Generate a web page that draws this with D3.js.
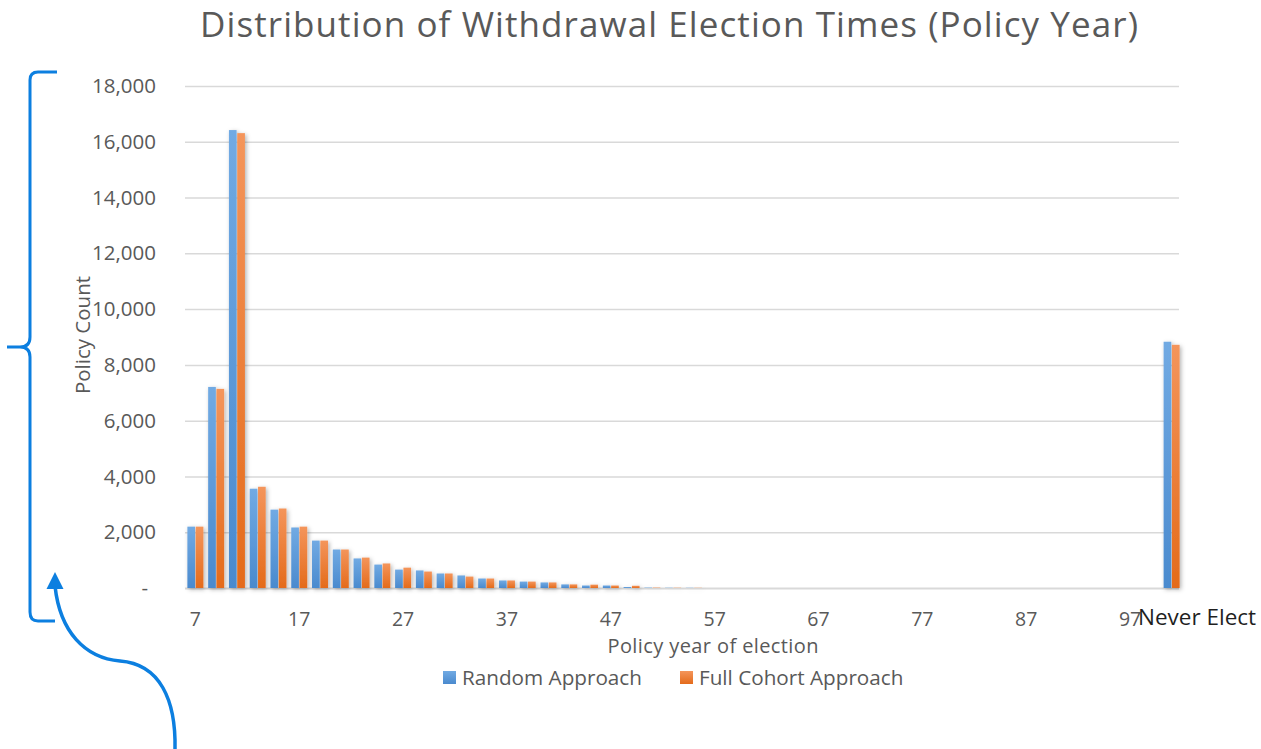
<!DOCTYPE html>
<html>
<head>
<meta charset="utf-8">
<script src="https://cdn.jsdelivr.net/npm/d3@7"></script>
<style>
  body { margin: 0; background: #fff; }
  svg { font-family: "Open Sans", "Noto Sans", sans-serif; }
</style>
</head>
<body>
<div id="chart"></div>
<script>
/* clustered bars: withdrawal election times */

// categories (policy year, every 2nd year) + the "never" bucket
const categories = ["7","9","11","13","15","17","19","21","23","25","27","29","31","33","35","37",
                    "39","41","43","45","47","49","51","53","55","57","59","61","63","65","67","69",
                    "71","73","75","77","79","81","83","85","87","89","91","93","95","97","99","Never Elect"];

const randomApproach = [2200, 7210, 16420, 3560, 2810, 2170, 1700, 1380, 1060, 840, 660, 630, 520, 450, 340, 270,
                        230, 200, 130, 90, 90, 35, 15, 10, 8, 0, 0, 0, 0, 0, 0, 0,
                        0, 0, 0, 0, 0, 0, 0, 0, 0, 0, 0, 0, 0, 0, 0, 8830];

const fullCohort = [2200, 7140, 16310, 3630, 2850, 2200, 1700, 1380, 1090, 880, 730, 590, 520, 410, 340, 270,
                    230, 200, 130, 120, 90, 80, 15, 10, 8, 0, 0, 0, 0, 0, 0, 0,
                    0, 0, 0, 0, 0, 0, 0, 0, 0, 0, 0, 0, 0, 0, 0, 8720];

const seriesNames = ["Random Approach", "Full Cohort Approach"];
const xTickLabels = ["7","17","27","37","47","57","67","77","87","97"];
const yTicks = [0, 2000, 4000, 6000, 8000, 10000, 12000, 14000, 16000, 18000];

const width = 1261,
      height = 749,
      margin = ({ top: 86, right: 80, bottom: 161, left: 185 });

const textColor = "#595959";

let svg = d3.select("#chart")
    .append("svg")
    .attr("width", width)
    .attr("height", height)
    .attr("viewBox", [0, 0, width, height]);

/* gradients + shadow, excel style */
const defs = svg.append("defs");
const grads = [
    { id: "gBlue", top: "#71aae3", bottom: "#4a8ace" },
    { id: "gOrange", top: "#f4955b", bottom: "#e46b1b" }
];
for (let g of grads) {
    let lg = defs.append("linearGradient")
        .attr("id", g.id)
        .attr("x1", 0).attr("y1", 0).attr("x2", 0).attr("y2", 1);
    lg.append("stop").attr("offset", "0%").attr("stop-color", g.top);
    lg.append("stop").attr("offset", "100%").attr("stop-color", g.bottom);
}
defs.append("filter")
    .attr("id", "shadow")
    .attr("x", "-20%").attr("y", "-20%").attr("width", "140%").attr("height", "140%")
    .append("feDropShadow")
    .attr("dx", 1.5).attr("dy", 1.5)
    .attr("stdDeviation", 2)
    .attr("flood-color", "#000")
    .attr("flood-opacity", 0.3);

/* SCALES */
let x0 = d3.scaleBand()
    .domain(categories)
    .range([margin.left, width - margin.right + 1])
    .paddingInner(0.23)
    .paddingOuter(0.115);

let x1 = d3.scaleBand()
    .domain(seriesNames)
    .range([0, x0.bandwidth()])
    .paddingInner(0.08);

let y = d3.scaleLinear()
    .domain([0, 18000])
    .range([588, margin.top]);

const color = d3.scaleOrdinal()
    .domain(seriesNames)
    .range(["url(#gBlue)", "url(#gOrange)"]);

/* AXES */
const yAxis = g => g
    .attr("transform", `translate(${margin.left}, 0)`)
    .call(d3.axisLeft(y)
        .tickValues(yTicks)
        .tickSize(-(width - margin.right - margin.left - 2))
        .tickPadding(29)
        .tickFormat(d => d === 0 ? "-" : d3.format(",")(d)))
    .call(g => g.select(".domain").remove())
    .call(g => g.selectAll(".tick line")
        .attr("stroke", "#d9d9d9")
        .attr("stroke-width", d => d === 0 ? 2 : 1.5))
    .call(g => g.selectAll(".tick text")
        .attr("fill", textColor)
        .attr("font-size", 20.5)
        .attr("font-family", "Open Sans")
        .attr("dx", d => d === 0 ? -8 : 0));

svg.append("g").call(yAxis);

const xAxis = g => g
    .attr("transform", `translate(0, 588)`)
    .call(d3.axisBottom(x0)
        .tickValues(xTickLabels)
        .tickSize(0)
        .tickPadding(24))
    .call(g => g.select(".domain").remove())
    .call(g => g.selectAll(".tick text")
        .attr("fill", textColor)
        .attr("font-size", 19.5)
        .attr("font-family", "Open Sans"));

svg.append("g").call(xAxis);

/* BARS */
const rows = categories.map((c, i) => ({
    category: c,
    values: [
        { key: seriesNames[0], value: randomApproach[i] },
        { key: seriesNames[1], value: fullCohort[i] }
    ]
}));

let bar = svg.append("g")
    .attr("filter", "url(#shadow)")
    .selectAll(".bar")
    .data(rows)
    .join("g")
    .attr("class", "bar")
    .attr("transform", d => `translate(${x0(d.category)}, 0)`);

bar.selectAll("rect")
    .data(d => d.values)
    .join("rect")
    .attr("x", d => x1(d.key))
    .attr("width", x1.bandwidth())
    .attr("y", d => y(d.value))
    .attr("height", d => y(0) - y(d.value))
    .attr("fill", d => color(d.key));

/* TEXTS */
svg.append("text")
    .attr("x", 669)
    .attr("y", 37)
    .attr("text-anchor", "middle")
    .attr("font-size", 35)
    .attr("textLength", 938)
    .attr("lengthAdjust", "spacing")
    .attr("fill", textColor)
    .text("Distribution of Withdrawal Election Times (Policy Year)");

svg.append("text")
    .attr("transform", "translate(90, 335) rotate(-90)")
    .attr("text-anchor", "middle")
    .attr("font-size", 20.5)
    .attr("fill", textColor)
    .text("Policy Count");

svg.append("text")
    .attr("x", 713)
    .attr("y", 653)
    .attr("text-anchor", "middle")
    .attr("font-size", 20)
    .attr("textLength", 211)
    .attr("fill", textColor)
    .text("Policy year of election");

// the last category label sits on top of "97" like a text box
svg.append("text")
    .attr("x", 1138)
    .attr("y", 625)
    .attr("font-size", 22.5)
    .attr("fill", "#1f1f1f")
    .text(categories[categories.length - 1]);

/* LEGEND */
const legendPos = [443, 680];
let legend = svg.append("g")
    .selectAll("g")
    .data(seriesNames)
    .join("g")
    .attr("transform", (d, i) => `translate(${legendPos[i]}, 671)`);

legend.append("rect")
    .attr("width", 13)
    .attr("height", 13)
    .attr("fill", d => color(d));

legend.append("text")
    .attr("x", 19)
    .attr("y", 14)
    .attr("font-size", 20.7)
    .attr("fill", textColor)
    .text(d => d);

/* hand-drawn annotation: brace + curved arrow */
const annot = "#0c7fe0";

svg.append("path")
    .attr("d", "M57,72 L38,72 Q30,72 30,80 L30,337 Q30,347 20,347 L7,347 M20,347 Q30,347 30,357 L30,612 Q30,621 38,621 L55,621")
    .attr("fill", "none")
    .attr("stroke", annot)
    .attr("stroke-width", 3);

svg.append("path")
    .attr("d", "M175,749 C176,700 160,664 120,661 C85,658 60,632 55,586")
    .attr("fill", "none")
    .attr("stroke", annot)
    .attr("stroke-width", 3.5);

svg.append("path")
    .attr("d", "M55,572 L63.5,589 L46.5,589 Z")
    .attr("fill", annot);
</script>
</body>
</html>
